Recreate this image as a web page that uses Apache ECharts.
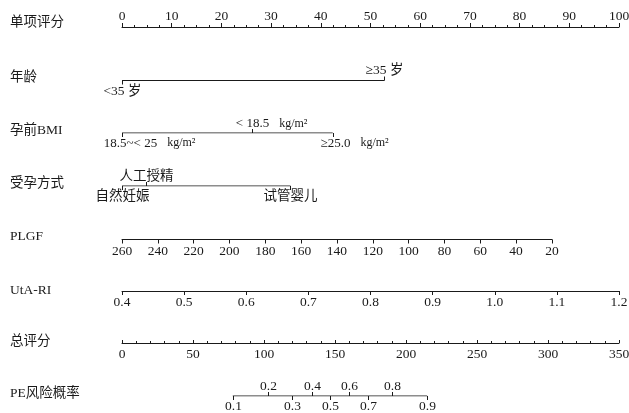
<!DOCTYPE html>
<html><head><meta charset="utf-8">
<script src="https://cdn.jsdelivr.net/npm/echarts@6/dist/echarts.min.js"></script>
<style>html,body{margin:0;padding:0;background:#fff}#c{width:629px;height:413px}</style>
</head><body><div id="c"></div>
<script>
// ---------- data ----------
const rowNames = ['单项评分', '年龄', '孕前BMI', '受孕方式', 'PLGF', 'UtA-RI', '总评分', 'PE风险概率'];
const pointsRange = [0, 100];
const pointsInterval = 10;
const ageLabels = ['<35 岁', '≥35 岁'];
const ageUnits = ['', ''];
const agePoints = [0, 52.8];
const ageSides = ['down', 'up'];
const bmiLabels = ['18.5~< 25', '< 18.5', '≥25.0'];
const bmiUnits = ['kg/m²', 'kg/m²', 'kg/m²'];
const bmiPoints = [0, 26.2, 42.4];
const bmiSides = ['down', 'up', 'down'];
const concLabels = ['自然妊娠', '人工授精', '试管婴儿'];
const concUnits = ['', '', ''];
const concPoints = [0, 4.8, 33.9];
const concSides = ['down', 'up', 'down'];
const plgfRange = [20, 260];
const plgfInterval = 20;
const plgfPointsAtMin = 86.5;   // points given at PLGF = 20
const utaRange = [0.4, 1.2];
const utaInterval = 0.1;
const totalRange = [0, 350];
const totalInterval = 50;
const riskLabels = ['0.1', '0.2', '0.3', '0.4', '0.5', '0.6', '0.7', '0.8', '0.9'];
const riskUnits = ['', '', '', '', '', '', '', '', ''];
const riskTotalPoints = [78.0, 102.8, 119.9, 133.5, 146.2, 159.6, 173.3, 189.9, 214.9];
const riskSides = ['down', 'up', 'down', 'up', 'down', 'up', 'down', 'up', 'down'];

// ---------- layout ----------
const LEFT = 122, RIGHT = 10, FULLW = 629 - LEFT - RIGHT;
const lineY = [27, 80.5, 133, 186, 239.5, 291, 343, 396];
const labelY = [22, 77, 130, 183, 236, 290, 341, 393];
const bmiLabelDx = [8, 0, 2];
const INK = '#1a1a1a';
const SERIF = "'Liberation Serif','Times New Roman','Noto Sans CJK SC',serif";
const LBLFONT = "'Liberation Serif','Noto Sans CJK SC',serif";

const measureCtx = document.createElement('canvas').getContext('2d');
function textW(t, size) { measureCtx.font = size + 'px ' + LBLFONT; return measureCtx.measureText(t).width; }

const grids = [], xAxes = [], yAxes = [], series = [];
lineY.forEach((y, i) => {
  const g = {left: LEFT, right: RIGHT, top: y - 10, height: 10, containLabel: false, outerBoundsMode: 'none'};
  if (i === 0) { g.top = y; }
  if (i === 4) { delete g.right; g.width = FULLW * plgfPointsAtMin / 100; }
  grids.push(g);
  yAxes.push({gridIndex: i, type: 'value', min: 0, max: 1, show: false});
});

const lineStyle = {color: INK, width: 1};
const labelBase = {color: INK, fontSize: 13.5, fontFamily: SERIF};

// 0 points axis
xAxes.push({gridIndex: 0, type: 'value', position: 'top', min: pointsRange[0], max: pointsRange[1], interval: pointsInterval,
  axisLine: {show: true, onZero: false, lineStyle}, axisTick: {show: true, length: 4, lineStyle},
  minorTick: {show: true, splitNumber: 4, length: 2, lineStyle}, splitLine: {show: false},
  axisLabel: Object.assign({margin: 4}, labelBase)});
// 1-3 hidden points axes for categorical rows
for (let i = 1; i <= 3; i++) xAxes.push({gridIndex: i, type: 'value', min: pointsRange[0], max: pointsRange[1], show: false});
// 4 PLGF
xAxes.push({gridIndex: 4, type: 'value', inverse: true, min: plgfRange[0], max: plgfRange[1], interval: plgfInterval,
  axisLine: {show: true, onZero: false, lineStyle}, axisTick: {show: true, length: 4, lineStyle}, splitLine: {show: false},
  axisLabel: Object.assign({margin: 5}, labelBase)});
// 5 UtA-RI
xAxes.push({gridIndex: 5, type: 'value', min: utaRange[0], max: utaRange[1], interval: utaInterval,
  axisLine: {show: true, onZero: false, lineStyle}, axisTick: {show: true, length: 4, lineStyle}, splitLine: {show: false},
  axisLabel: Object.assign({margin: 5, formatter: v => Number(v).toFixed(1)}, labelBase)});
// 6 total points
xAxes.push({gridIndex: 6, type: 'value', min: totalRange[0], max: totalRange[1], interval: totalInterval,
  axisLine: {show: true, onZero: false, lineStyle}, axisTick: {show: true, inside: true, length: 3, lineStyle},
  minorTick: {show: true, splitNumber: 5, length: 2, lineStyle}, splitLine: {show: false},
  axisLabel: Object.assign({margin: 5}, labelBase)});
// 7 hidden total points axis for risk
xAxes.push({gridIndex: 7, type: 'value', min: totalRange[0], max: totalRange[1], show: false});

function catRow(idx, pts, labels, units, sides, fontSize, dx) {
  series.push({type: 'line', xAxisIndex: idx, yAxisIndex: idx, silent: true, symbol: 'none', animation: false,
    data: [[Math.min(...pts), 0], [Math.max(...pts), 0]], lineStyle: {color: INK, width: 1}});
  series.push({type: 'custom', xAxisIndex: idx, yAxisIndex: idx, silent: true, animation: false,
    data: pts.map(p => [p, 0]),
    renderItem: (params, api) => {
      const c = api.coord([api.value(0), api.value(1)]);
      const k = params.dataIndex, up = sides[k] === 'up';
      const x = Math.round(c[0]) + 0.5, y = c[1];
      const ty = up ? y - 3 : y + 4;
      const lx = x + (dx ? dx[k] : 0);
      const children = [
        {type: 'line', shape: {x1: x, y1: y, x2: x, y2: y + (up ? -4 : 4)}, style: {stroke: INK, lineWidth: 1}},
        {type: 'text', style: {text: labels[k], x: lx, y: ty, align: 'center',
          verticalAlign: up ? 'bottom' : 'top', fontSize: fontSize, fontFamily: LBLFONT, fill: INK}}
      ];
      if (units[k]) {
        const w = textW(labels[k], fontSize);
        children.push({type: 'text', style: {text: units[k], x: lx + w / 2 + 10, y: ty, align: 'left',
          verticalAlign: up ? 'bottom' : 'top', fontSize: fontSize - 1, fontFamily: LBLFONT, fill: INK}});
      }
      return {type: 'group', children};
    }});
}
catRow(1, agePoints, ageLabels, ageUnits, ageSides, 13.5);
catRow(2, bmiPoints, bmiLabels, bmiUnits, bmiSides, 13, bmiLabelDx);
catRow(3, concPoints, concLabels, concUnits, concSides, 13.5);
catRow(7, riskTotalPoints, riskLabels, riskUnits, riskSides, 13.5);

const graphic = rowNames.map((n, i) => ({type: 'text', x: 10, y: labelY[i],
  style: {text: n, fontSize: 13.5, fontFamily: LBLFONT, fill: INK, verticalAlign: 'middle'}}));

const chart = echarts.init(document.getElementById('c'), null, {renderer: 'canvas'});
chart.setOption({animation: false, grid: grids, xAxis: xAxes, yAxis: yAxes, series, graphic});
</script></body></html>
